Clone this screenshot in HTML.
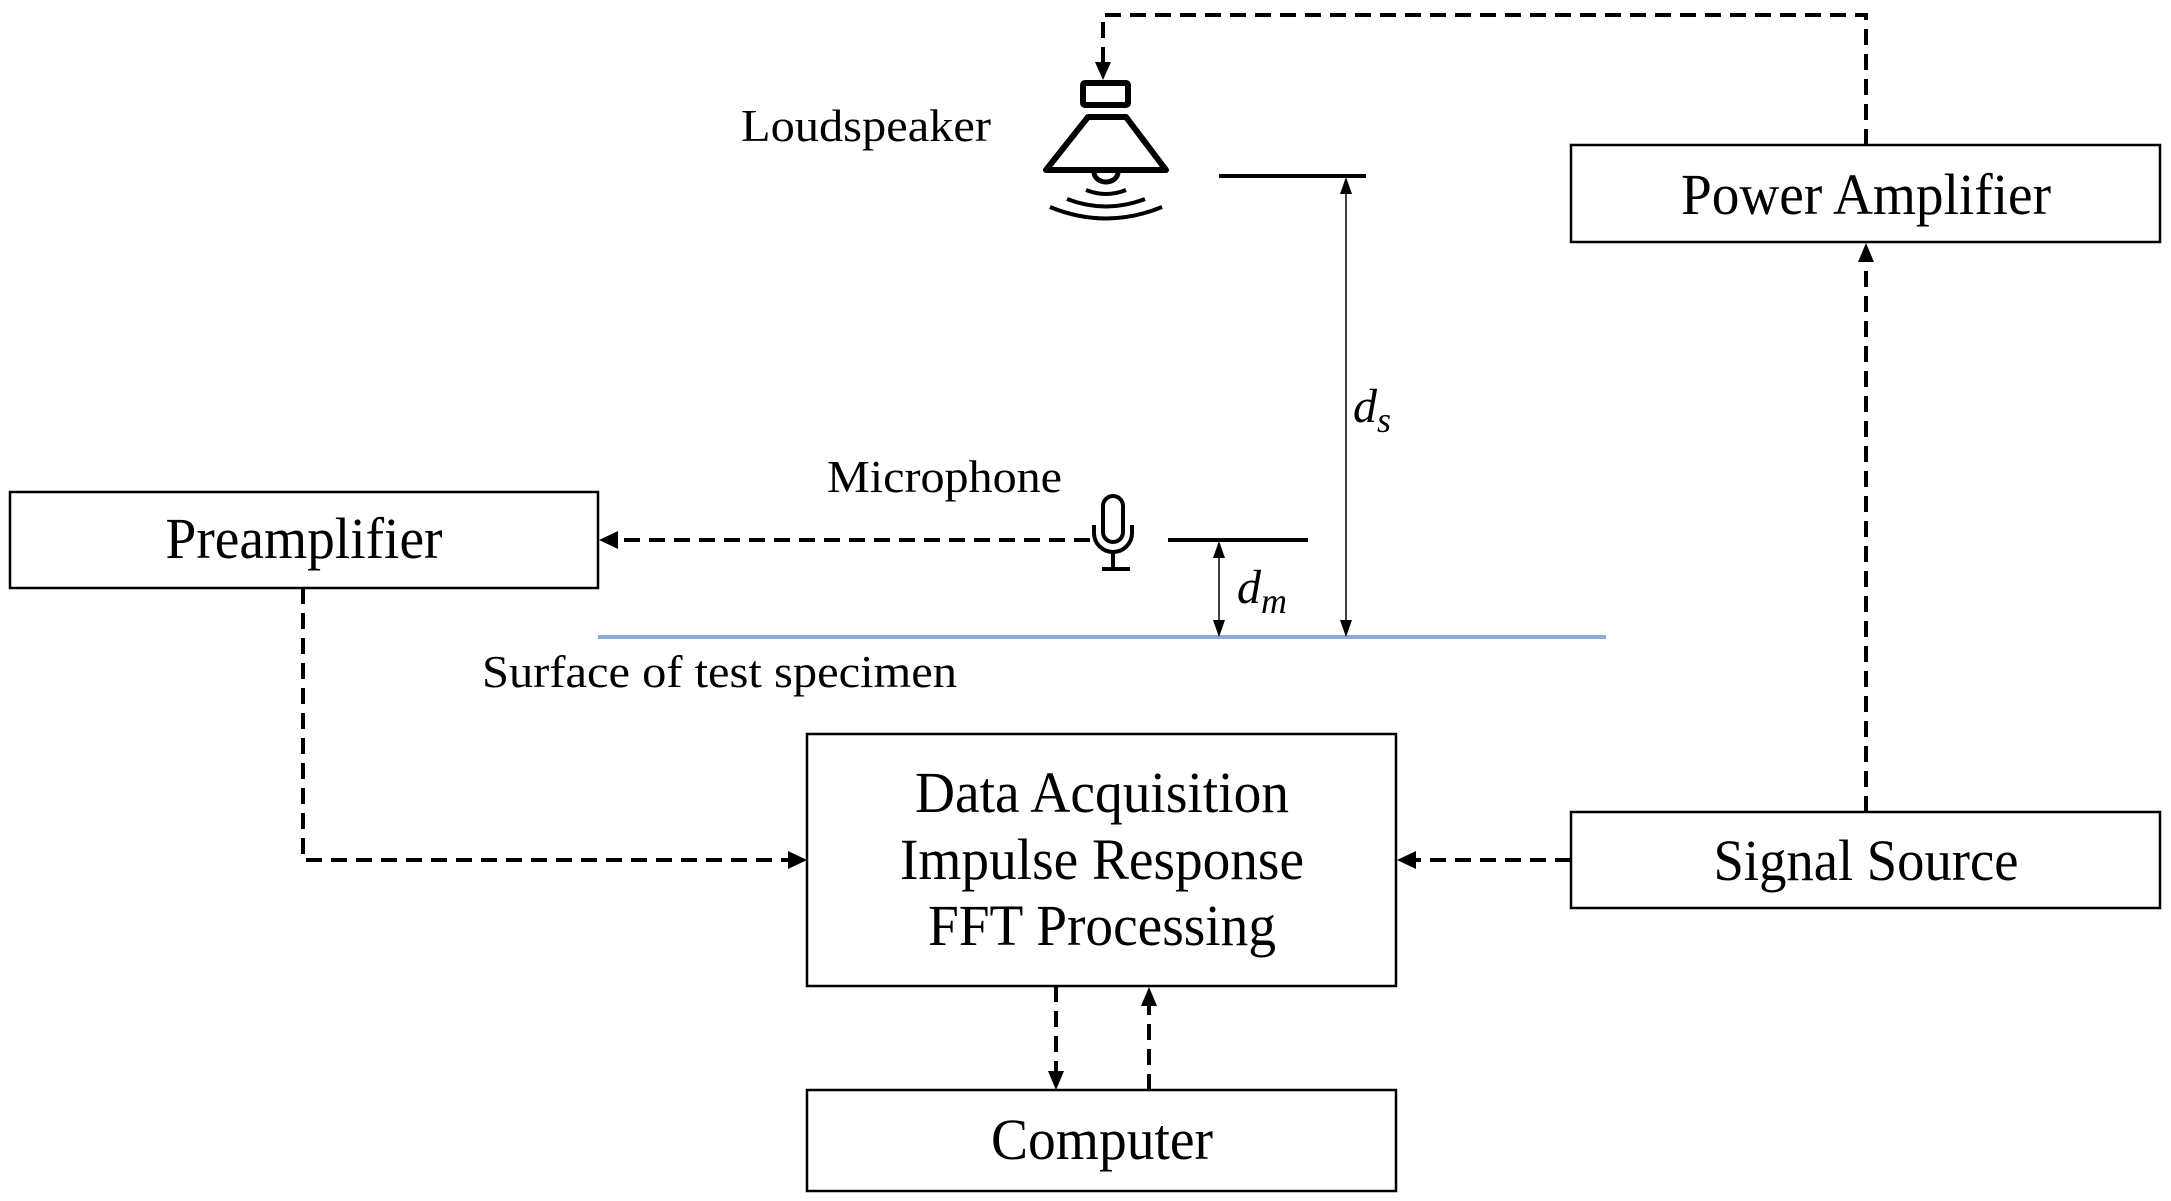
<!DOCTYPE html>
<html><head><meta charset="utf-8"><style>html,body{margin:0;padding:0;background:#fff}svg{display:block}</style></head>
<body>
<svg width="2171" height="1201" viewBox="0 0 2171 1201" xmlns="http://www.w3.org/2000/svg" font-family="'Liberation Serif', serif" fill="#000">
<g fill="none" stroke="#000" stroke-width="2.5">
<rect x="1571" y="145" width="589" height="97"/>
<rect x="10" y="492" width="588" height="96"/>
<rect x="807" y="734" width="589" height="252"/>
<rect x="1571" y="812" width="589" height="96"/>
<rect x="807" y="1090" width="589" height="101"/>
</g>
<g fill="none" stroke="#000" stroke-width="4" stroke-dasharray="16,9">
<polyline points="1866,145 1866,15 1103,15 1103,64"/>
<line x1="1866" y1="812" x2="1866" y2="262"/>
<line x1="1571" y1="860" x2="1416" y2="860"/>
<polyline points="303,588 303,860 790,860"/>
<line x1="1090" y1="540" x2="618" y2="540"/>
<line x1="1056" y1="986" x2="1056" y2="1071"/>
<line x1="1149" y1="1090" x2="1149" y2="1006"/>
</g>
<path d="M1095,62 L1111,62 L1103,80 z"/>
<path d="M1858,262 L1874,262 L1866,243 z"/>
<path d="M1416,851 L1416,869 L1397,860 z"/>
<path d="M788,851 L788,869 L807,860 z"/>
<path d="M618,531 L618,549 L599,540 z"/>
<path d="M1048,1071 L1064,1071 L1056,1090 z"/>
<path d="M1141,1006 L1157,1006 L1149,987 z"/>
<!-- loudspeaker -->
<g fill="none" stroke="#000" stroke-width="6" stroke-linejoin="round">
<rect x="1083" y="83" width="45" height="22" rx="2"/>
<path d="M1088,117 L1126,117 L1166,170 L1046,170 z"/>
<path d="M1094,172 A12,10 0 0 0 1118,172" stroke-width="5"/>
<path d="M1086,190 Q1106,198 1126,190" stroke-width="4"/>
<path d="M1067,199 Q1106,214 1145,199" stroke-width="4"/>
<path d="M1050,207 Q1106,230 1162,207" stroke-width="4"/>
</g>
<!-- mic -->
<g fill="none" stroke="#000" stroke-width="4">
<rect x="1103" y="496" width="20" height="46" rx="10"/>
<path d="M1094,525 L1094,533 A19,19 0 0 0 1132,533 L1132,525"/>
<line x1="1113" y1="552" x2="1113" y2="569"/>
<line x1="1102" y1="569" x2="1130" y2="569"/>
</g>
<!-- measurement lines -->
<line x1="1219" y1="176" x2="1366" y2="176" stroke="#000" stroke-width="4"/>
<line x1="1168" y1="540" x2="1308" y2="540" stroke="#000" stroke-width="4"/>
<line x1="598" y1="637" x2="1606" y2="637" stroke="#8eaadb" stroke-width="4"/>
<g stroke="#000" stroke-width="1.5">
<line x1="1346" y1="180" x2="1346" y2="632"/>
<line x1="1219" y1="544" x2="1219" y2="632"/>
</g>
<path d="M1340,194 L1352,194 L1346,177 z"/>
<path d="M1213,558 L1225,558 L1219,541 z"/>
<path d="M1340,620 L1352,620 L1346,637 z"/>
<path d="M1213,620 L1225,620 L1219,637 z"/>
<!-- labels -->
<text x="1866" y="214" font-size="58" text-anchor="middle" textLength="370" lengthAdjust="spacingAndGlyphs">Power Amplifier</text>
<text x="304" y="558" font-size="58" text-anchor="middle" textLength="277" lengthAdjust="spacingAndGlyphs">Preamplifier</text>
<text x="1102" y="812" font-size="58" text-anchor="middle" textLength="374" lengthAdjust="spacingAndGlyphs">Data Acquisition</text>
<text x="1102" y="879" font-size="58" text-anchor="middle" textLength="404" lengthAdjust="spacingAndGlyphs">Impulse Response</text>
<text x="1102" y="945" font-size="58" text-anchor="middle" textLength="348" lengthAdjust="spacingAndGlyphs">FFT Processing</text>
<text x="1866" y="880" font-size="58" text-anchor="middle" textLength="305" lengthAdjust="spacingAndGlyphs">Signal Source</text>
<text x="1102" y="1159" font-size="58" text-anchor="middle" textLength="222" lengthAdjust="spacingAndGlyphs">Computer</text>
<text x="741" y="141" font-size="46" textLength="250" lengthAdjust="spacingAndGlyphs">Loudspeaker</text>
<text x="827" y="492" font-size="46" textLength="235" lengthAdjust="spacingAndGlyphs">Microphone</text>
<text x="482" y="687" font-size="46" textLength="475" lengthAdjust="spacingAndGlyphs">Surface of test specimen</text>
<text x="1353" y="422" font-size="48" font-style="italic">d<tspan font-size="36" dy="10">s</tspan></text>
<text x="1237" y="603" font-size="48" font-style="italic">d<tspan font-size="36" dy="10">m</tspan></text>
</svg>
</body></html>
